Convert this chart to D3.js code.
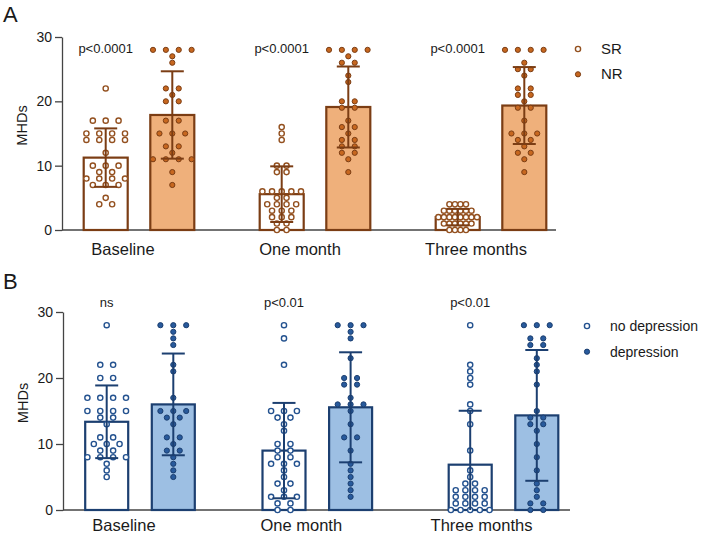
<!DOCTYPE html>
<html><head><meta charset="utf-8">
<script src="https://cdn.jsdelivr.net/npm/d3@7"></script>
<style>body{margin:0;background:#fff}svg{display:block}text{font-family:Arial,"Liberation Sans",sans-serif;fill:#1a1a1a}</style>
</head><body><svg id="c" width="708" height="536"></svg>
<script>
// ---------- data ----------
const timepoints = ["Baseline", "One month", "Three months"];
const yTicks = [0, 10, 20, 30];
const seriesA = ["SR", "NR"];
const seriesB = ["no depression", "depression"];
const pLabelsA = ["p<0.0001", "p<0.0001", "p<0.0001"];
const pLabelsB = ["ns", "p<0.01", "p<0.01"];

const aSR_baseline = [22,17,17,17,15,15,15,15,14,14,14,14,12,10,10,10,9,9,8,8,8,8,7,7,7,5,4,4];
const aNR_baseline = [28,28,28,28,27,26,22,22,21,20,20,17,17,15,15,15,13,13,12,11,11,11,11,9,7];
const aSR_month1 = [16,15,14,10,10,9,9,6,6,6,6,6,5,5,4,4,4,4,3,3,3,2,2,2,1,1,0,0];
const aNR_month1 = [28,28,28,28,27,26,26,24,23,20,20,19,19,17,16,16,15,14,14,13,13,12,12,11,9];
const aSR_month3 = [4,4,4,4,3,3,3,3,3,3,2,2,2,2,2,2,2,2,1,1,1,1,1,1,0,0,0,0];
const aNR_month3 = [28,28,28,28,26,25,25,24,22,22,21,21,20,19,19,17,15,15,15,14,14,13,12,12,11,9];

const bNo_baseline = [28,22,22,20,20,17,17,17,17,15,15,15,15,14,14,13,11,11,10,10,10,9,9,8,8,8,8,7,6,5];
const bDep_baseline = [28,28,28,27,26,25,22,21,17,15,15,15,14,14,13,11,11,10,9,9,8,7,6,5];
const bNo_month1 = [28,26,22,15,15,15,14,14,13,12,10,10,9,9,8,8,7,7,7,6,5,4,4,3,2,2,2,1,1,0,0];
const bDep_month1 = [28,28,28,27,26,23,20,20,19,19,17,16,16,16,15,13,11,11,9,7,6,5,4,3,2];
const bNo_month3 = [28,22,21,20,19,16,15,13,9,6,5,4,4,3,3,3,3,2,2,2,2,1,1,1,1,0,0,0,0,0];
const bDep_month3 = [28,28,28,26,26,25,25,23,22,21,19,15,14,14,13,13,12,10,8,6,4,3,2,1,1,0,0];

// ---------- layout ----------
const svg = d3.select("#c");
const panels = [
  { letter: "A", letterY: 22, axisX: 62, yTop: 37, yBottom: 230, xEnd: 556,
    centers: [139, 315, 491], labelShift: [-16, -15, -15], offset: 33.3, barW: 44, pY: 53, catY: 255,
    series: seriesA, pLabels: pLabelsA,
    data: [[aSR_baseline, aNR_baseline], [aSR_month1, aNR_month1], [aSR_month3, aNR_month3]],
    stroke: "#7b3d14", fill: ["#ffffff", "#efb07b"], dotFill: ["#ffffff", "#c7671f"],
    dotStroke: ["#93501f", "#7b3d14"],
    legend: { x: 578, y: 49, dy: 25.3, tx: 601, fs: 15 } },
  { letter: "B", letterY: 289, axisX: 63, yTop: 312, yBottom: 510, xEnd: 570,
    centers: [140, 317.3, 503.5], labelShift: [-16, -16, -22], offset: 33.3, barW: 43, pY: 307, catY: 531,
    series: seriesB, pLabels: pLabelsB,
    data: [[bNo_baseline, bDep_baseline], [bNo_month1, bDep_month1], [bNo_month3, bDep_month3]],
    stroke: "#1c3f70", fill: ["#ffffff", "#9dbfe3"], dotFill: ["#ffffff", "#285a9c"],
    dotStroke: ["#24528f", "#1c3f70"],
    legend: { x: 587, y: 326, dy: 25.7, tx: 610, fs: 14 } }
];

panels.forEach(P => {
  const g = svg.append("g");
  const y = d3.scaleLinear().domain([0, 30]).range([P.yBottom, P.yTop]);
  const xg = d3.scaleOrdinal().domain(timepoints).range(P.centers);
  const xs = d3.scaleOrdinal().domain(P.series).range([-P.offset, P.offset]);

  g.append("text").attr("x", 3).attr("y", P.letterY).attr("font-size", 22).text(P.letter);

  const ay = g.append("g").attr("transform", `translate(${P.axisX},0)`)
    .call(d3.axisLeft(y).tickValues(yTicks).tickSize(7).tickPadding(3).tickSizeOuter(0));
  ay.select(".domain").attr("stroke", "#444").attr("stroke-width", 1.3);
  ay.selectAll(".tick line").attr("stroke", "#444").attr("stroke-width", 1.3);
  ay.selectAll(".tick text").attr("font-size", 14).attr("font-family", "Arial, Liberation Sans, sans-serif").attr("fill", "#1a1a1a");
  g.append("text").attr("transform", `translate(${P.axisX - 35},${(P.yTop + P.yBottom) / 2 - 8}) rotate(-90)`)
    .attr("text-anchor", "middle").attr("font-size", 14.5).text("MHDs");

  g.append("line").attr("x1", P.axisX).attr("x2", P.xEnd).attr("y1", y(0)).attr("y2", y(0))
    .attr("stroke", "#444").attr("stroke-width", 1.3);
  timepoints.forEach((t, ti) => {
    g.append("text").attr("x", xg(t) + P.labelShift[ti]).attr("y", P.catY).attr("text-anchor", "middle")
      .attr("font-size", 16.5).text(t);
  });

  timepoints.forEach((t, ti) => {
    g.append("text").attr("x", xg(t) + xs(P.series[0])).attr("y", P.pY).attr("text-anchor", "middle")
      .attr("font-size", 13).text(P.pLabels[ti]);
    P.series.forEach((s, si) => {
      const vals = P.data[ti][si];
      const cx = xg(t) + xs(s);
      const m = d3.mean(vals), sd = d3.deviation(vals);
      g.append("rect").attr("x", cx - P.barW / 2).attr("y", y(m)).attr("width", P.barW)
        .attr("height", y(0) - y(m)).attr("fill", P.fill[si]).attr("stroke", P.stroke).attr("stroke-width", 2.2);
      const counts = d3.rollup(vals, v => v.length, d => d);
      const maxC = d3.max(counts.values());
      const sp = maxC > 1 ? Math.min(12.9, 38.6 / (maxC - 1)) : 0;
      const placed = [];
      counts.forEach((n, v) => {
        for (let k = 0; k < n; k++) placed.push({ v, dx: (k - (n - 1) / 2) * sp });
      });
      g.selectAll(null).data(placed).enter().append("circle")
        .attr("cx", d => cx + d.dx).attr("cy", d => y(d.v)).attr("r", 2.6)
        .attr("fill", P.dotFill[si]).attr("stroke", P.dotStroke[si]).attr("stroke-width", si === 0 ? 1.4 : 1);
      const lo = Math.max(0, m - sd), hi = m + sd;
      g.append("line").attr("x1", cx).attr("x2", cx).attr("y1", y(lo)).attr("y2", y(hi))
        .attr("stroke", P.stroke).attr("stroke-width", 2);
      [hi, lo].forEach((v, i) => {
        if (i === 1 && m - sd <= 0) return;
        g.append("line").attr("x1", cx - 11.5).attr("x2", cx + 11.5).attr("y1", y(v)).attr("y2", y(v))
          .attr("stroke", P.stroke).attr("stroke-width", 2);
      });
    });
  });

  P.series.forEach((s, si) => {
    const ly = P.legend.y + si * P.legend.dy;
    g.append("circle").attr("cx", P.legend.x).attr("cy", ly).attr("r", 2.6)
      .attr("fill", P.dotFill[si]).attr("stroke", P.dotStroke[si]).attr("stroke-width", si === 0 ? 1.4 : 1);
    g.append("text").attr("x", P.legend.tx).attr("y", ly + 5).attr("font-size", P.legend.fs).text(s);
  });
});
</script></body></html>
